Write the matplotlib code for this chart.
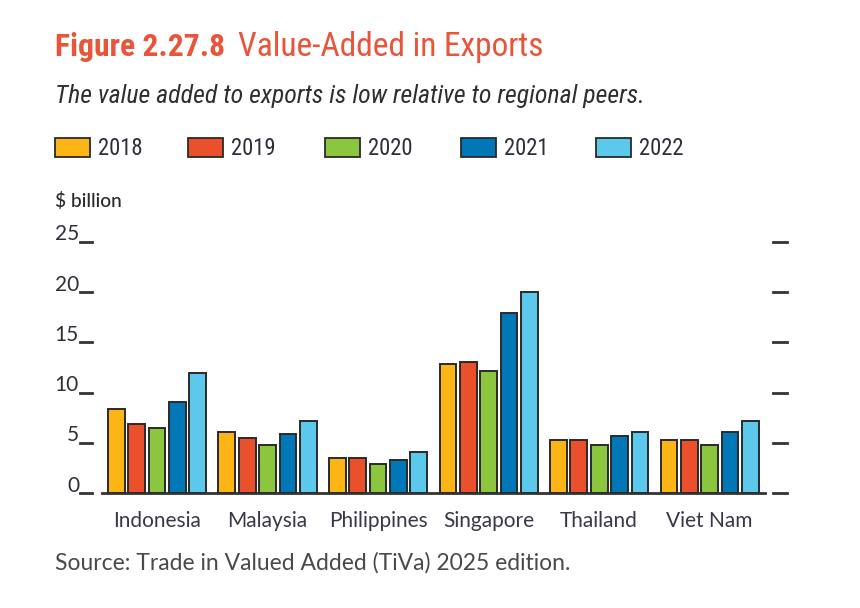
import matplotlib
matplotlib.use("Agg")
import matplotlib.pyplot as plt
from matplotlib import font_manager
from matplotlib.patches import Rectangle
from matplotlib.lines import Line2D
import numpy as np

countries = ["Indonesia", "Malaysia", "Philippines", "Singapore", "Thailand", "Viet Nam"]
years = ["2018", "2019", "2020", "2021", "2022"]
v2018 = [8.35, 6.05, 3.55, 12.8, 5.25, 5.25]
v2019 = [6.9, 5.45, 3.55, 13.05, 5.25, 5.25]
v2020 = [6.5, 4.8, 2.9, 12.2, 4.8, 4.8]
v2021 = [9.1, 5.85, 3.35, 17.9, 5.65, 6.05]
v2022 = [12.0, 7.15, 4.15, 20.0, 6.05, 7.15]
series = [v2018, v2019, v2020, v2021, v2022]
colors = ["#FDB515", "#E9502B", "#8CC63F", "#0078B8", "#5CC8EC"]
yticks = [0, 5, 10, 15, 20, 25]

W, H = 860, 608
fig = plt.figure(figsize=(W / 100, H / 100), dpi=100)


def have(name):
    try:
        font_manager.findfont(font_manager.FontProperties(family=name), fallback_to_default=False)
        return True
    except Exception:
        return False


cond = None
for c in ["Liberation Sans Narrow", "Roboto Condensed", "Open Sans Condensed", "Lato"]:
    if have(c):
        cond = c
        break
base = "Lato" if have("Lato") else "DejaVu Sans"

renderer = fig.canvas.get_renderer()


def fx(px):
    return px / W


def fy(py):
    return 1 - py / H


def fit_text(x, y, s, width_px, size0=14, **kw):
    t = fig.text(fx(x), fy(y), s, fontsize=size0, **kw)
    bb = t.get_window_extent(renderer=renderer)
    t.set_fontsize(size0 * width_px / bb.width)
    return t


title_col = "#E8553A"
fit_text(55, 56, "Figure 2.27.8", 171, family=[cond, "DejaVu Sans"], weight="bold",
         color=title_col, va="baseline")
fit_text(238, 56, "Value-Added in Exports", 307, family=[cond, "DejaVu Sans"],
         color=title_col, va="baseline")
fit_text(55, 103, "The value added to exports is low relative to regional peers.", 595,
         family=[cond, "DejaVu Sans"], style="italic", color="#2f2f2f", va="baseline")

# legend
sw_x = [55, 188, 325, 461, 596]
for i, yr in enumerate(years):
    fig.patches.append(Rectangle((fx(sw_x[i]), fy(157)), 35 / W, 19 / H,
                                 transform=fig.transFigure, facecolor=colors[i],
                                 edgecolor="#2a2a2a", linewidth=1.3))
    fit_text(sw_x[i] + 43, 155, yr, 45, family=[cond, "DejaVu Sans"], color="#2f2f3a",
             va="baseline")

fit_text(55, 207, "$ billion", 67, family=[base, "DejaVu Sans"], color="#2a2a2a",
         va="baseline", weight="medium")

fit_text(55, 570, "Source: Trade in Valued Added (TiVa) 2025 edition.", 517,
         family=[base, "DejaVu Sans"], color="#4a4a4a", va="baseline")

# axes
x0, x1 = 101.7, 765
ybot, ytop = 493.3, 241.7
ax = fig.add_axes([fx(x0), fy(ybot), (x1 - x0) / W, (ybot - ytop) / H])
ax.set_xlim(-0.5, len(countries) - 0.5)
ax.set_ylim(0, 25)
for s in ["top", "right", "left"]:
    ax.spines[s].set_visible(False)
ax.spines["bottom"].set_linewidth(2)
ax.spines["bottom"].set_color("#333333")
ax.set_yticks([])
ax.set_xticks([])

xs = np.arange(len(countries))
step, bw = 0.184, 0.151
for j, vals in enumerate(series):
    ax.bar(xs + (j - 2) * step, vals, width=bw, color=colors[j], edgecolor="#2a2a2a",
           linewidth=1.4, zorder=3)

# category labels
for i, c in enumerate(countries):
    ax.text(i, -3.3, c, ha="center", va="baseline", fontsize=15, family=[base, "DejaVu Sans"],
            color="#3a3848", clip_on=False)

# ticks left and right
axw = x1 - x0
for v in yticks:
    ax.add_line(Line2D([(80 - x0) / axw, (92 - x0) / axw], [v, v], transform=ax.get_yaxis_transform(),
                       color="#333333", linewidth=2, clip_on=False))
    ax.add_line(Line2D([(773 - x0) / axw, (787 - x0) / axw], [v, v], transform=ax.get_yaxis_transform(),
                       color="#333333", linewidth=2, clip_on=False))
    ax.text((79 - x0) / axw, v + 0.15, str(v), transform=ax.get_yaxis_transform(), ha="right",
            va="baseline", fontsize=15, family=[base, "DejaVu Sans"], color="#2f2f3a", clip_on=False)

fig.savefig("out.png", dpi=100)
